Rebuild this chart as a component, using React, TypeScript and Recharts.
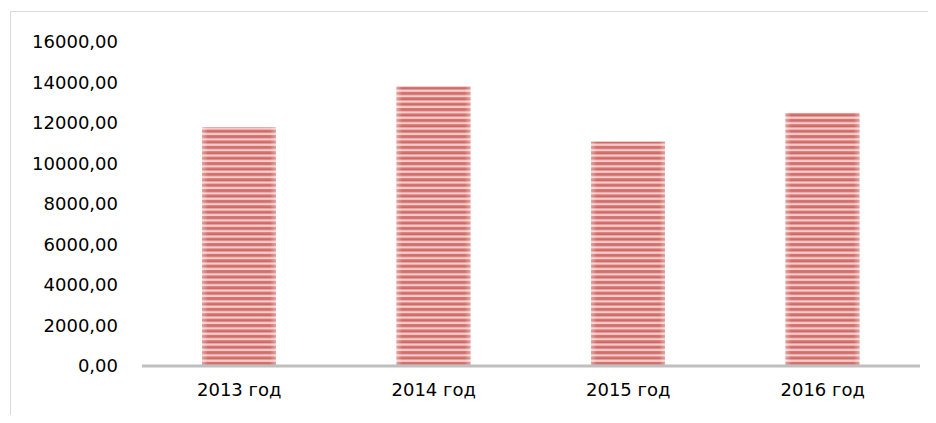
import React from "react";
import { BarChart, Bar, XAxis, YAxis } from "recharts";

const years = ["2013 год", "2014 год", "2015 год", "2016 год"];
const amounts = [11800, 13800, 11080, 12500];
const yTicks = [0, 2000, 4000, 6000, 8000, 10000, 12000, 14000, 16000];

const chartData = years.map((name, i) => ({ name, amt: amounts[i] }));

const fmt = (v: number) => v.toFixed(2).replace(".", ",");

const font = "'DejaVu Sans', sans-serif";

// striped bar with slightly faded left/right edges
const StripedBar = (props: any) => {
  const { x, y, width, height } = props;
  if (!height || height <= 0) return null;
  return (
    <g>
      <rect x={x} y={y} width={width} height={height} fill="url(#redStripes)" />
      <rect x={x} y={y} width={width} height={height} fill="url(#edgeFade)" />
    </g>
  );
};

export default function App() {
  return (
    <div
      style={{
        position: "relative",
        width: 936,
        height: 423,
        margin: -8,
        background: "#fff",
        overflow: "hidden",
      }}
    >
      <div
        style={{
          position: "absolute",
          left: 10,
          top: 11,
          width: 940,
          height: 420,
          borderLeft: "1px solid #d9d9d9",
          borderTop: "1px solid #d9d9d9",
        }}
      />
      <BarChart
        width={936}
        height={423}
        data={chartData}
        margin={{ top: 42, right: 16, bottom: 27, left: 0 }}
        style={{ position: "absolute", left: 0, top: 0 }}
      >
        <defs>
          <pattern
            id="redStripes"
            patternUnits="userSpaceOnUse"
            width={10}
            height={5.4}
          >
            <rect x={0} y={0} width={10} height={5.4} fill="#f3cdcc" />
            <rect x={0} y={0} width={10} height={1.2} fill="#d67774" />
            <rect x={0} y={1.2} width={10} height={1.4} fill="#c9524f" />
            <rect x={0} y={2.6} width={10} height={1} fill="#e29e9c" />
          </pattern>
          <linearGradient id="edgeFade" x1="0" y1="0" x2="1" y2="0">
            <stop offset="0%" stopColor="#fff" stopOpacity={0.35} />
            <stop offset="8%" stopColor="#fff" stopOpacity={0} />
            <stop offset="92%" stopColor="#fff" stopOpacity={0} />
            <stop offset="100%" stopColor="#fff" stopOpacity={0.35} />
          </linearGradient>
        </defs>
        <XAxis
          dataKey="name"
          height={30}
          axisLine={{ stroke: "#bfbfbf", strokeWidth: 3 }}
          tickLine={false}
          tickSize={0}
          tickMargin={17}
          tick={{ fill: "#000", fontSize: 18, fontFamily: font }}
        />
        <YAxis
          width={142}
          domain={[0, 16000]}
          ticks={yTicks}
          interval={0}
          axisLine={false}
          tickLine={false}
          tickSize={0}
          tickMargin={24}
          tickFormatter={fmt}
          tick={{ fill: "#000", fontSize: 18, fontFamily: font }}
        />
        <Bar
          dataKey="amt"
          barSize={74}
          shape={StripedBar}
          isAnimationActive={false}
        />
      </BarChart>
    </div>
  );
}
